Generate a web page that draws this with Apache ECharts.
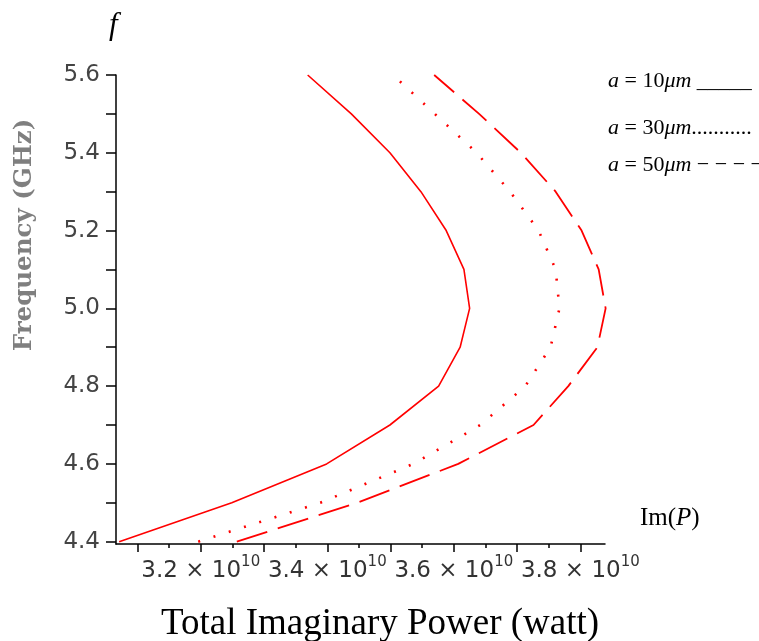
<!DOCTYPE html>
<html>
<head>
<meta charset="utf-8">
<script src="https://cdn.jsdelivr.net/npm/echarts@6/dist/echarts.min.js"></script>
<style>
  html, body { margin: 0; padding: 0; background: #ffffff; }
  #chart { width: 759px; height: 641px; }
</style>
</head>
<body>
<div id="chart"></div>
<script>
// Frequency samples (GHz)
const freqGHz = [4.4, 4.5, 4.6, 4.7, 4.8, 4.9, 5.0, 5.1, 5.2, 5.3, 5.4, 5.5, 5.6];

// Total imaginary power Im(P), in units of 10^10 W, for each sample above
const imPowerA10 = [3.071, 3.249, 3.399, 3.499, 3.576, 3.610, 3.625, 3.616, 3.588, 3.548, 3.499, 3.438, 3.369];
const imPowerA30 = [3.196, 3.389, 3.536, 3.642, 3.713, 3.753, 3.767, 3.761, 3.734, 3.689, 3.636, 3.570, 3.504];
const imPowerA50 = [3.257, 3.447, 3.607, 3.726, 3.781, 3.827, 3.840, 3.829, 3.802, 3.761, 3.706, 3.640, 3.569];

// Axis ticks and labels
const xMajorTicks = [3.1, 3.2, 3.3, 3.4, 3.5, 3.6, 3.7, 3.8];
const xMinorTicks = [3.15, 3.25, 3.35, 3.45, 3.55, 3.65, 3.75];
const xTickLabels = [3.2, 3.4, 3.6, 3.8];
const yTicks = [4.4, 4.5, 4.6, 4.7, 4.8, 4.9, 5.0, 5.1, 5.2, 5.3, 5.4, 5.5, 5.6];
const yTickLabels = [4.4, 4.6, 4.8, 5.0, 5.2, 5.4, 5.6];

const X_MIN = 3.066, X_MAX = 3.839;
const Y_MIN = 4.394, Y_MAX = 5.6;

const pairs = (xs) => xs.map((x, i) => [x, freqGHz[i]]);

const chart = echarts.init(document.getElementById('chart'), null, { renderer: 'canvas' });

const serif = '"Liberation Serif", "Times New Roman", serif';
const sans = '"DejaVu Sans", Verdana, sans-serif';

const legendRich = {
  n: { font: '22px ' + serif, fill: '#000' },
  i: { font: 'italic 22px ' + serif, fill: '#000' }
};

const option = {
  backgroundColor: '#ffffff',
  animation: false,
  grid: { left: 116, top: 75, width: 489, height: 469, containLabel: false },
  xAxis: [
    {
      type: 'value',
      min: X_MIN,
      max: X_MAX,
      position: 'bottom',
      axisLine: { show: true, onZero: false, lineStyle: { color: '#000', width: 1.5 } },
      axisTick: { show: true, customValues: xMajorTicks, length: 8, lineStyle: { color: '#000', width: 1.5 } },
      axisLabel: {
        show: true,
        customValues: xTickLabels,
        margin: 11,
        formatter: (v) => '{m|' + v.toFixed(1) + ' \u00d7 10}{s|10}',
        rich: {
          m: { fontFamily: sans, fontSize: 23, color: '#333', verticalAlign: 'bottom', lineHeight: 28 },
          s: { fontFamily: sans, fontSize: 15, color: '#333', verticalAlign: 'top', padding: [0, 0, 12, 0] }
        }
      },
      splitLine: { show: false }
    },
    {
      type: 'value',
      min: X_MIN,
      max: X_MAX,
      position: 'bottom',
      axisLine: { show: false, onZero: false },
      axisTick: { show: true, customValues: xMinorTicks, length: 4, lineStyle: { color: '#000', width: 1.5 } },
      axisLabel: { show: false },
      splitLine: { show: false }
    }
  ],
  yAxis: {
    type: 'value',
    min: Y_MIN,
    max: Y_MAX,
    axisLine: { show: true, onZero: false, lineStyle: { color: '#000', width: 1.5 } },
    axisTick: { show: true, customValues: yTicks, length: 10, lineStyle: { color: '#000', width: 1.5 } },
    axisLabel: {
      show: true,
      customValues: yTickLabels,
      margin: 16,
      fontFamily: sans,
      fontSize: 23,
      color: '#444',
      formatter: (v) => v.toFixed(1)
    },
    splitLine: { show: false }
  },
  series: [
    {
      name: 'a = 10 μm',
      type: 'line',
      data: pairs(imPowerA10),
      showSymbol: false,
      lineStyle: { color: '#ff0000', width: 1.6, type: 'solid' }
    },
    {
      name: 'a = 30 μm',
      type: 'line',
      data: pairs(imPowerA30),
      showSymbol: false,
      lineStyle: { color: '#ff0000', width: 2.6, type: [2, 14] }
    },
    {
      name: 'a = 50 μm',
      type: 'line',
      data: pairs(imPowerA50),
      showSymbol: false,
      lineStyle: { color: '#ff0000', width: 1.8, type: [32, 11] }
    }
  ],
  graphic: [
    {
      type: 'text', left: 109, top: 10,
      style: { text: 'f', font: 'italic 31px ' + serif, fill: '#000' }
    },
    {
      type: 'text', x: 25, y: 235, rotation: Math.PI / 2,
      style: {
        text: 'Frequency (GHz)', font: 'bold 24.5px "DejaVu Serif", serif', fill: '#7f7f7f',
        align: 'center', verticalAlign: 'middle'
      }
    },
    {
      type: 'text', left: 640, top: 506,
      style: {
        text: '{n|Im(}{i|P}{n|)}',
        rich: {
          n: { font: '25px ' + serif, fill: '#000' },
          i: { font: 'italic 25px ' + serif, fill: '#000' }
        }
      }
    },
    {
      type: 'text', x: 380, y: 624,
      style: {
        text: 'Total Imaginary Power (watt)', font: '37px ' + serif, fill: '#000',
        align: 'center', verticalAlign: 'middle'
      }
    },
    {
      type: 'text', left: 608, top: 70,
      style: { text: '{i|a}{n| = 10}{i|μm}{n| _____}', rich: legendRich }
    },
    {
      type: 'text', left: 608, top: 117,
      style: { text: '{i|a}{n| = 30}{i|μm}{n|...........}', rich: legendRich }
    },
    {
      type: 'text', left: 608, top: 154,
      style: { text: '{i|a}{n| = 50}{i|μm}{n| \u2212 \u2212 \u2212 \u2212}', rich: legendRich }
    }
  ]
};

chart.setOption(option);
</script>
</body>
</html>
